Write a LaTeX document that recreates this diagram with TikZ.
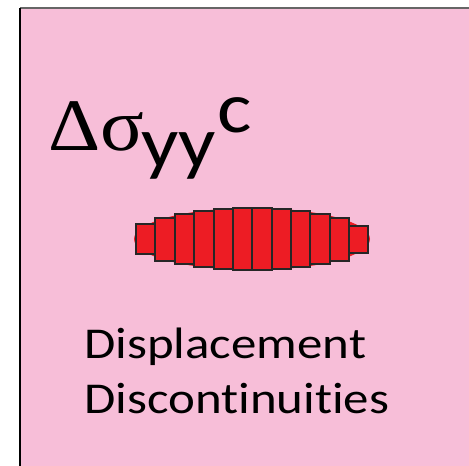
\documentclass[tikz,border=0pt]{standalone}
\usepackage{fontspec}
\setmainfont{Carlito}[Ligatures=NoCommon]
\newfontfamily\symfont{Liberation Serif}
\definecolor{bgpink}{HTML}{F7BED8}
\definecolor{ddred}{HTML}{ED1C24}
\tikzset{
  bar/.style={draw=black!85, line width=1.1pt, fill=ddred},
  lbl/.style={inner sep=0pt, anchor=base west, text=black, xscale=1.13}
}
\begin{document}
\begin{tikzpicture}[x=1pt,y=-1pt]
\useasboundingbox (0,0) rectangle (469,466);
\fill[white] (0,0) rectangle (469,466);
\fill[bgpink] (20,8) rectangle (469,466);
\draw[black!60, line width=2pt] (20,8) -- (469,8);
\draw[black, line width=2.5pt] (20,8) -- (20,466);
% ellipse
\fill[ddred] (252,239) ellipse [x radius=118, y radius=31];
% bars
\foreach \xa/\xb/\ya/\yb [count=\i] in {
 136/155/224/254, 155/175/218/261, 175/194/214/264, 194/214/211/267,
 214/233/209/269, 233/252/208/270, 252/272/208/270, 272/291/209/269,
 291/310/211/267, 310/330/214/264, 330/349/218/261, 349/368/226/253}
 \draw[bar] (\xa,\ya) rectangle (\xb,\yb);
% labels
\node[lbl, xscale=0.97, font=\symfont\fontsize{74}{74}\selectfont] (ds) at (48,150) {Δσ};
\node[lbl, font=\fontsize{73}{73}\selectfont] (yy) at (141,167) {yy};
\node[lbl, font=\fontsize{72}{72}\selectfont] (c) at (217,132) {c};
\node[lbl, xscale=1.024, font=\fontsize{44}{44}\selectfont] (l1) at (84,358) {Displacement};
\node[lbl, xscale=1.024, font=\fontsize{44}{44}\selectfont] (l2) at (84,413) {Discontinuities};
\end{tikzpicture}
\end{document}
